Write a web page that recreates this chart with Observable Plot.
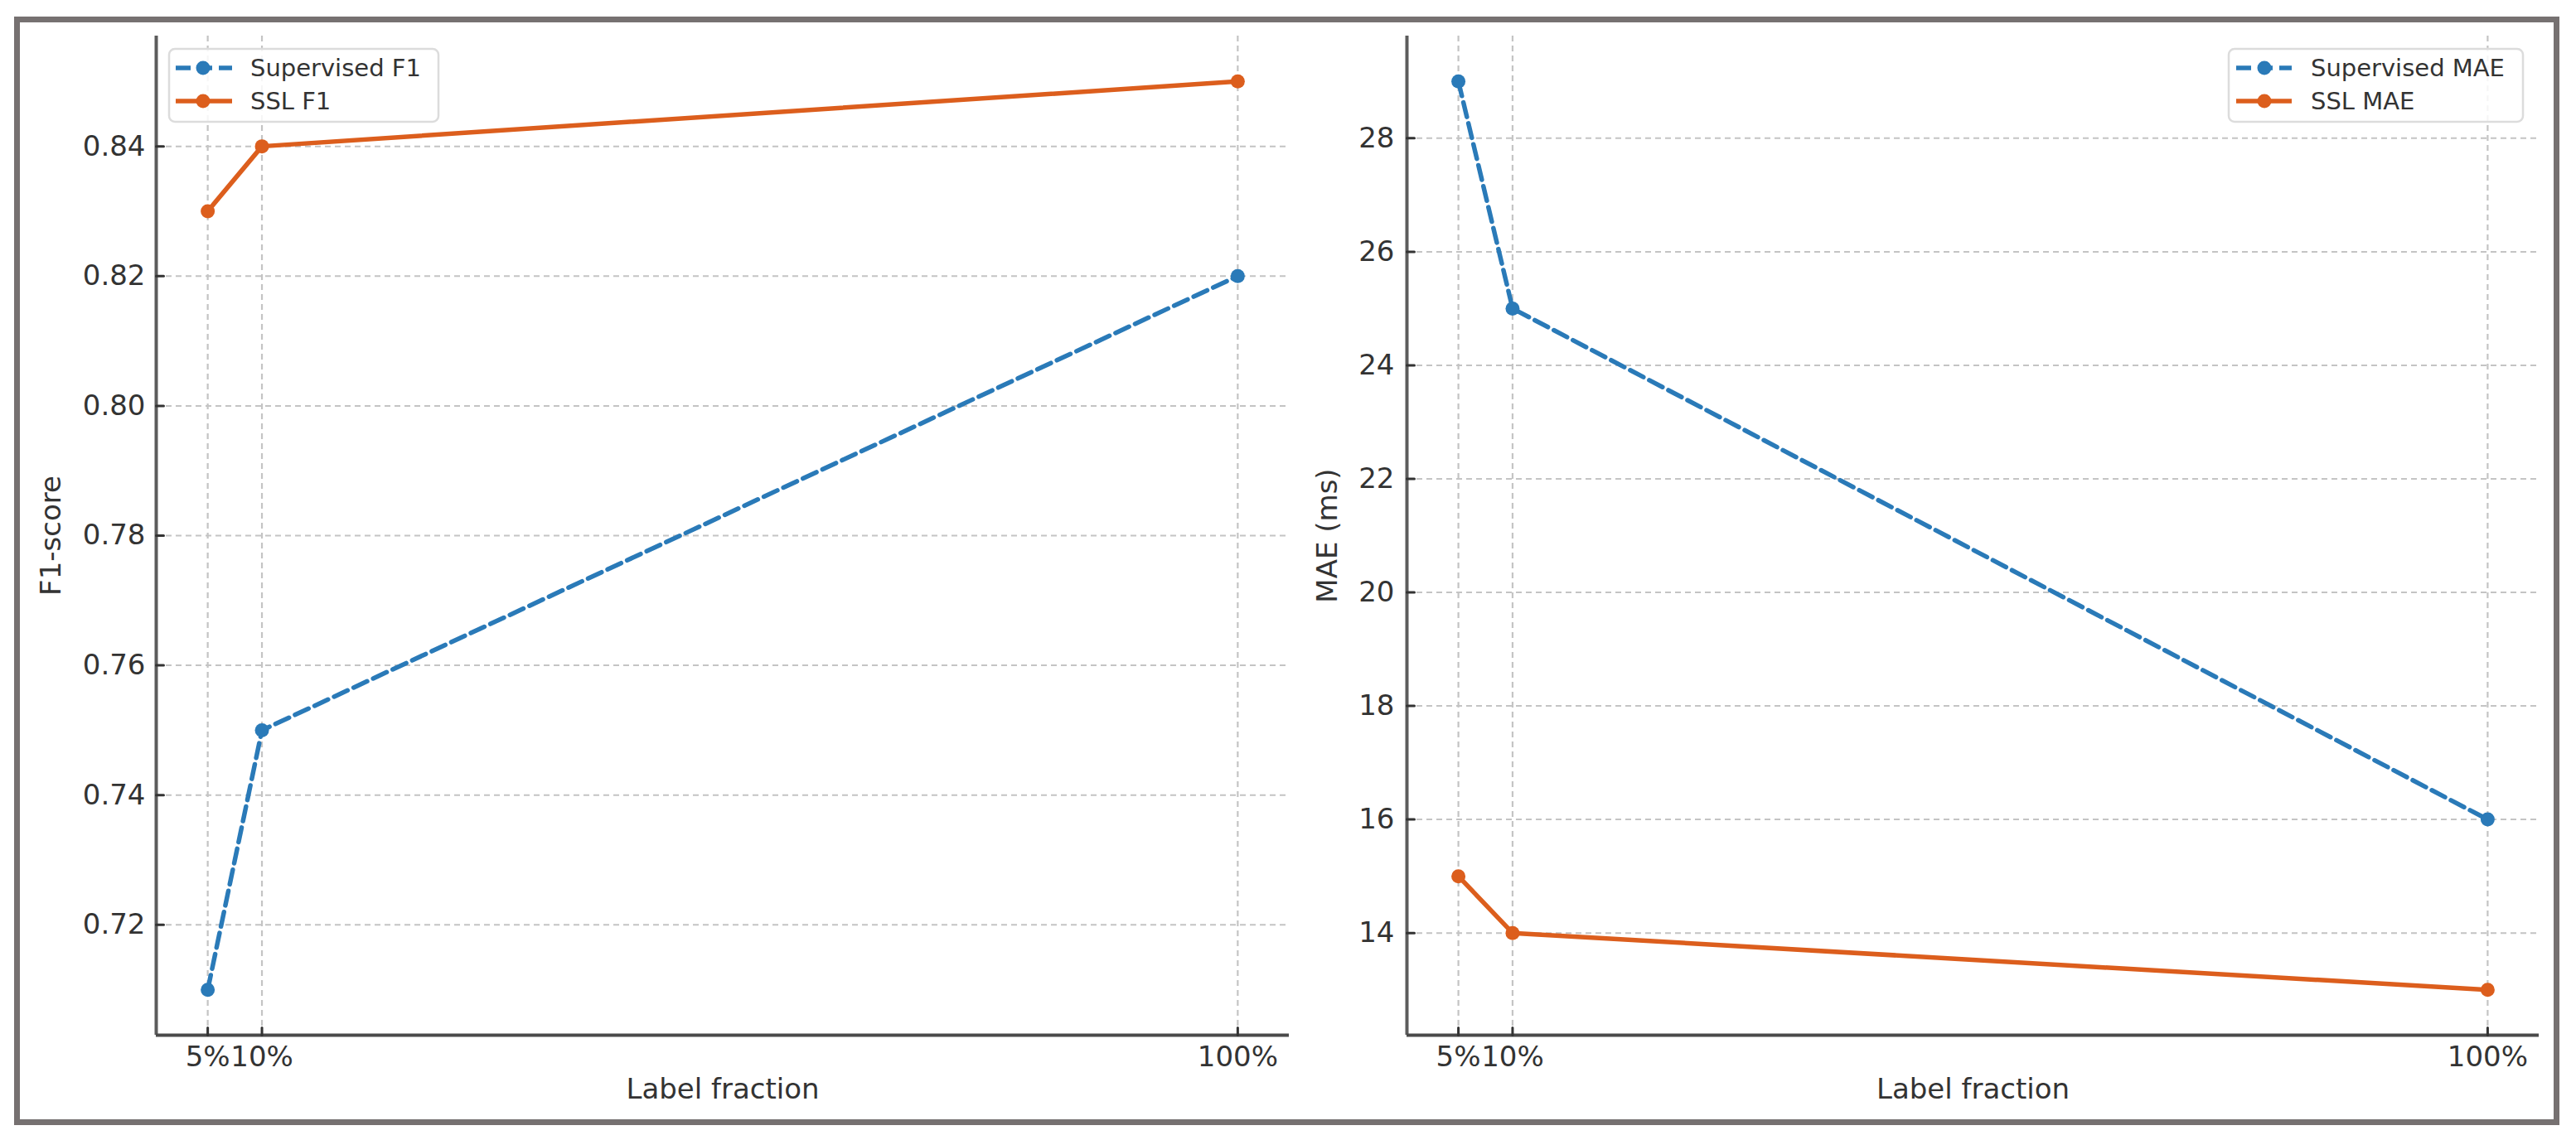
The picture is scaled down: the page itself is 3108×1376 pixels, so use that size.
<!DOCTYPE html>
<html>
<head>
<meta charset="utf-8">
<script src="https://cdn.jsdelivr.net/npm/d3@7"></script>
<script src="https://cdn.jsdelivr.net/npm/@observablehq/plot@0.6"></script>
<style>
  html, body { margin: 0; padding: 0; background: #fff; }
  body { width: 3108px; height: 1376px; position: relative; overflow: hidden; font-family: "DejaVu Sans", sans-serif; }
  #frame { position: absolute; left: 17px; top: 20px; width: 3071px; height: 1338px; box-sizing: border-box; border: 7px solid #767171; }
  .chart { position: absolute; top: 0; }
  .legend { position: absolute; }
</style>
</head>
<body>
<div id="frame"></div>
<div id="left" class="chart" style="left:0px"></div>
<div id="right" class="chart" style="left:1560px"></div>
<script>
// ---- data ----
const fractions = [5, 10, 100];
const fractionLabels = ["5%", "10%", "100%"];
const supervisedF1 = [0.71, 0.75, 0.82];
const sslF1 = [0.83, 0.84, 0.85];
const supervisedMAE = [29, 25, 16];
const sslMAE = [15, 14, 13];
const f1Ticks = [0.72, 0.74, 0.76, 0.78, 0.80, 0.82, 0.84];
const maeTicks = [14, 16, 18, 20, 22, 24, 26, 28];

const BLUE = "#2a7ab8";
const ORANGE = "#dc5e1d";
const GRID = "#c4c4c4";
const FONT = "DejaVu Sans";

function padDomain(values) {
  const lo = d3.min(values), hi = d3.max(values), r = hi - lo;
  return [lo - 0.05 * r, hi + 0.05 * r];
}

const tickShape = { draw(context, l) { context.moveTo(0, 0); context.lineTo(0, -l); } };

function makeChart({ sup, ssl, yTicks, yFormat, yLabel, width, marginLeft, yLabelOffset, yTickPad }) {
  const xDomain = padDomain(fractions);
  const yDomain = padDomain([...sup, ...ssl]);
  const supRows = fractions.map((f, i) => ({ f, v: sup[i] }));
  const sslRows = fractions.map((f, i) => ({ f, v: ssl[i] }));
  return Plot.plot({
    width,
    height: 1376,
    marginLeft,
    marginRight: 45,
    marginTop: 43,
    marginBottom: 127,
    style: { fontFamily: FONT, fontSize: "34px", color: "#333", background: "transparent", overflow: "visible" },
    x: { domain: xDomain },
    y: { domain: yDomain },
    marks: [
      Plot.gridY(yTicks, { stroke: GRID, strokeOpacity: 1, strokeWidth: 2, strokeDasharray: "7,5" }),
      Plot.gridX(fractions, { stroke: GRID, strokeOpacity: 1, strokeWidth: 2.2, strokeDasharray: "7,5" }),
      Plot.ruleX([xDomain[0]], { stroke: "#5c5c5c", strokeWidth: 4 }),
      Plot.ruleY([yDomain[0]], { stroke: "#4a4a4a", strokeWidth: 4 }),
      Plot.vector(yTicks, { x: xDomain[0], y: d => d, rotate: 90, length: 9, anchor: "start", shape: tickShape, stroke: "#333", strokeWidth: 3 }),
      Plot.vector(fractions, { x: d => d, y: yDomain[0], rotate: 0, length: 9, anchor: "start", shape: tickShape, stroke: "#333", strokeWidth: 3 }),
      Plot.axisY(yTicks, { tickSize: 0, tickPadding: yTickPad, tickFormat: yFormat, fontSize: 34, label: null, fill: "#333" }),
      Plot.axisX(fractions, { tickSize: 0, tickPadding: 13, tickFormat: d => fractionLabels[fractions.indexOf(d)], fontSize: 34, label: null, fill: "#333" }),
      Plot.line(supRows, { x: "f", y: "v", stroke: BLUE, strokeWidth: 5.5, strokeDasharray: "18,8" }),
      Plot.dot(supRows, { x: "f", y: "v", r: 8.5, fill: BLUE }),
      Plot.line(sslRows, { x: "f", y: "v", stroke: ORANGE, strokeWidth: 5.5 }),
      Plot.dot(sslRows, { x: "f", y: "v", r: 8.5, fill: ORANGE }),
      Plot.text([yLabel], { frameAnchor: "left", rotate: -90, dx: -yLabelOffset, textAnchor: "middle", lineAnchor: "middle", fontSize: 34, fill: "#333" }),
      Plot.text(["Label fraction"], { frameAnchor: "bottom", dy: 66, textAnchor: "middle", lineAnchor: "middle", fontSize: 34, fill: "#333" })
    ]
  });
}

document.getElementById("left").append(makeChart({
  sup: supervisedF1, ssl: sslF1, yTicks: f1Ticks, yFormat: d3.format(".2f"),
  yLabel: "F1-score", width: 1600, marginLeft: 188, yLabelOffset: 126, yTickPad: 13
}));
document.getElementById("right").append(makeChart({
  sup: supervisedMAE, ssl: sslMAE, yTicks: maeTicks, yFormat: d3.format("d"),
  yLabel: "MAE (ms)", width: 1548, marginLeft: 137, yLabelOffset: 95, yTickPad: 15
}));

// ---- legends ----
function legend({ left, top, w, h, lineX0, lineX1, markX, textX, labels }) {
  const ns = "http://www.w3.org/2000/svg";
  const div = document.createElement("div");
  div.className = "legend";
  div.style.left = left + "px";
  div.style.top = top + "px";
  const svg = document.createElementNS(ns, "svg");
  svg.setAttribute("width", w);
  svg.setAttribute("height", h);
  svg.style.overflow = "visible";
  const mk = (tag, attrs) => { const e = document.createElementNS(ns, tag); for (const k in attrs) e.setAttribute(k, attrs[k]); svg.appendChild(e); return e; };
  mk("rect", { x: 1, y: 1, width: w - 2, height: h - 2, rx: 7, ry: 7, fill: "rgba(255,255,255,0.85)", stroke: "#dcdcdc", "stroke-width": 2.5 });
  const rows = [{ c: BLUE, dash: "18,8", y: 24 }, { c: ORANGE, dash: null, y: 64 }];
  rows.forEach((r, i) => {
    const ln = mk("line", { x1: lineX0, x2: lineX1, y1: r.y, y2: r.y, stroke: r.c, "stroke-width": 5.5 });
    if (r.dash) ln.setAttribute("stroke-dasharray", r.dash);
    mk("circle", { cx: markX, cy: r.y, r: 8.5, fill: r.c });
    const t = mk("text", { x: textX, y: r.y, "dominant-baseline": "central", "font-family": FONT, "font-size": 29, fill: "#333" });
    t.textContent = labels[i];
  });
  div.appendChild(svg);
  document.body.appendChild(div);
}
legend({ left: 203, top: 58, w: 327, h: 90, lineX0: 9, lineX1: 77, markX: 42, textX: 99, labels: ["Supervised F1", "SSL F1"] });
legend({ left: 2688, top: 58, w: 357, h: 90, lineX0: 10, lineX1: 77, markX: 44, textX: 100, labels: ["Supervised MAE", "SSL MAE"] });
</script>
</body>
</html>
